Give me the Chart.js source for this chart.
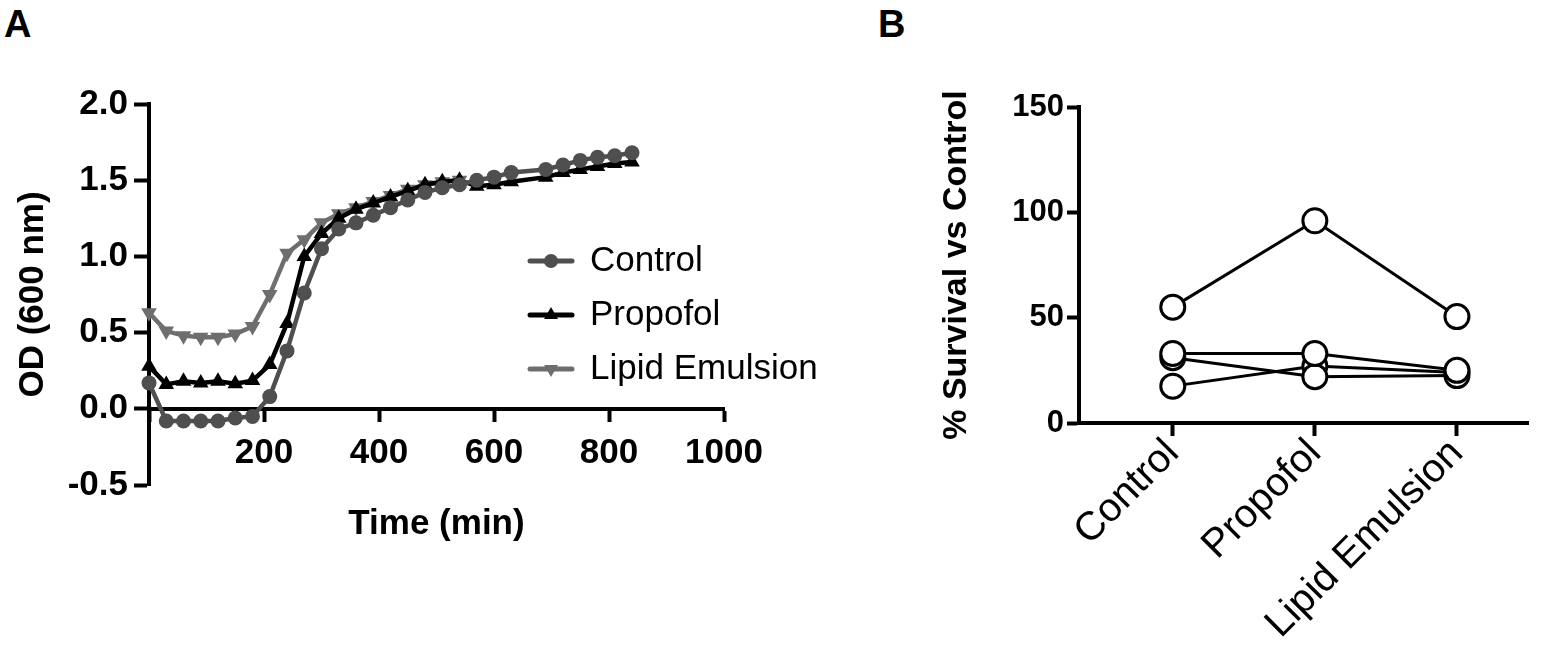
<!DOCTYPE html>
<html>
<head>
<meta charset="utf-8">
<script src="https://cdn.jsdelivr.net/npm/chart.js@4.4.1/dist/chart.umd.min.js"></script>
<style>
  html, body { margin: 0; padding: 0; background: #fff; }
  #wrap { position: relative; width: 1560px; height: 645px; overflow: hidden; }
  .panel { position: absolute; top: 0; }
  .letter { position: absolute; top: 5px; font: bold 38px 'Liberation Sans', Arial, sans-serif; line-height: 1; color: #000; }
</style>
</head>
<body>
<div id="wrap">
  <div class="letter" style="left:4px">A</div>
  <div class="letter" style="left:878px">B</div>
  <canvas id="growthChart" class="panel" style="left:0" width="860" height="645"></canvas>
  <canvas id="survivalChart" class="panel" style="left:860px" width="700" height="645"></canvas>
</div>
<script>
// ===== PANEL A: growth curves =====
const timeMin = [0, 30, 60, 90, 120, 150, 180, 210, 240, 270, 300, 330, 360, 390, 420, 450, 480, 510, 540, 570, 600, 630, 690, 720, 750, 780, 810, 840];
const controlOD = [0.17, -0.08, -0.08, -0.08, -0.08, -0.06, -0.05, 0.08, 0.38, 0.76, 1.05, 1.18, 1.22, 1.27, 1.32, 1.37, 1.42, 1.45, 1.47, 1.50, 1.52, 1.55, 1.57, 1.60, 1.63, 1.65, 1.66, 1.68];
const propofolOD = [0.28, 0.16, 0.18, 0.17, 0.18, 0.165, 0.185, 0.29, 0.56, 1.0, 1.15, 1.25, 1.31, 1.35, 1.39, 1.43, 1.47, 1.49, 1.50, 1.46, 1.47, 1.49, 1.52, 1.55, 1.57, 1.59, 1.61, 1.62];
const lipidOD = [0.63, 0.51, 0.48, 0.47, 0.47, 0.49, 0.54, 0.75, 1.02, 1.11, 1.22, 1.28, 1.32, 1.36, 1.40, 1.44, 1.47, 1.49, 1.50];
const seriesNames = ['Control', 'Propofol', 'Lipid Emulsion'];
const odTicks = [-0.5, 0, 0.5, 1, 1.5, 2];
const timeTicks = [0, 200, 400, 600, 800, 1000];

// ===== PANEL B: survival =====
const groups = ['Control', 'Propofol', 'Lipid Emulsion'];
const run1 = [55, 96, 50.5];
const run2 = [33, 33, 25];
const run3 = [31, 22, 22.5];
const run4 = [17.5, 27, 24];
const survivalTicks = [0, 50, 100, 150];

const FONT = "'Liberation Sans', Arial, sans-serif";

function toPoints(xs, ys) {
  return ys.map((y, i) => ({ x: xs[i], y: y }));
}

function drawMarker(ctx, style, rotation, x, y, r) {
  ctx.beginPath();
  if (style === 'circle') {
    ctx.arc(x, y, r, 0, Math.PI * 2);
  } else {
    let rad = rotation * Math.PI / 180;
    for (let k = 0; k < 3; k++) {
      const px = x + Math.sin(rad) * r, py = y - Math.cos(rad) * r;
      if (k === 0) ctx.moveTo(px, py); else ctx.lineTo(px, py);
      rad += Math.PI * 2 / 3;
    }
    ctx.closePath();
  }
  ctx.fill();
}

// legend drawn inside the plot, line + marker + label
const sideLegend = {
  id: 'sideLegend',
  afterDraw(chart) {
    const ctx = chart.ctx;
    chart.data.datasets.forEach((ds, i) => {
      const y = 261 + i * 54;
      ctx.save();
      ctx.strokeStyle = ds.borderColor;
      ctx.lineWidth = 5;
      ctx.lineCap = 'round';
      ctx.beginPath();
      ctx.moveTo(530, y);
      ctx.lineTo(572, y);
      ctx.stroke();
      ctx.fillStyle = ds.backgroundColor;
      drawMarker(ctx, ds.pointStyle, ds.pointRotation || 0, 551, y, ds.legendRadius);
      ctx.fillStyle = '#000';
      ctx.font = '35px ' + FONT;
      ctx.textBaseline = 'middle';
      ctx.textAlign = 'left';
      ctx.fillText(ds.label, 590, y);
      ctx.restore();
    });
  }
};

const axisCommon = {
  grid: { drawOnChartArea: false, tickColor: '#000', tickWidth: 4 },
  border: { color: '#000', width: 4 }
};

new Chart(document.getElementById('growthChart'), {
  type: 'line',
  data: {
    datasets: [
      { label: seriesNames[0], data: toPoints(timeMin, controlOD), borderColor: '#4f4f4f', backgroundColor: '#4f4f4f',
        borderWidth: 4.5, pointStyle: 'circle', pointRadius: 7.5, pointBorderWidth: 0, legendRadius: 7 },
      { label: seriesNames[1], data: toPoints(timeMin, propofolOD), borderColor: '#000', backgroundColor: '#000',
        borderWidth: 4.5, pointStyle: 'triangle', pointRadius: 9, pointBorderWidth: 0, legendRadius: 8 },
      { label: seriesNames[2], data: toPoints(timeMin, lipidOD), borderColor: '#6e6e6e', backgroundColor: '#6e6e6e',
        borderWidth: 4.5, pointStyle: 'triangle', pointRotation: 180, pointRadius: 9, pointBorderWidth: 0, legendRadius: 8 }
    ]
  },
  options: {
    responsive: false,
    animation: false,
    clip: false,
    layout: { padding: { top: 104, right: 136, bottom: 160, left: 0 } },
    elements: { line: { tension: 0 } },
    plugins: { legend: { display: false }, tooltip: { enabled: false } },
    scales: {
      x: {
        type: 'linear', min: 0, max: 1000, position: { y: 0 },
        afterBuildTicks: s => { s.ticks = timeTicks.map(v => ({ value: v })); },
        ticks: { callback: v => (v === 0 ? '' : v), font: { family: FONT, size: 35, weight: 'bold' }, color: '#000', maxRotation: 0, padding: 13 },
        grid: { ...axisCommon.grid, tickLength: 11 },
        border: axisCommon.border,
        title: { display: true, text: 'Time (min)', color: '#000', font: { family: FONT, size: 35, weight: 'bold' }, padding: { top: 16, bottom: 0 } }
      },
      y: {
        min: -0.5, max: 2,
        afterBuildTicks: s => { s.ticks = odTicks.map(v => ({ value: v })); },
        afterFit: s => { s.width = 149; },
        ticks: { callback: v => v.toFixed(1), font: { family: FONT, size: 35, weight: 'bold' }, color: '#000', padding: 6 },
        grid: { ...axisCommon.grid, tickLength: 15 },
        border: axisCommon.border,
        title: { display: true, text: 'OD (600 nm)', color: '#000', font: { family: FONT, size: 35, weight: 'bold' }, padding: { top: 12, bottom: 0 } }
      }
    }
  },
  plugins: [sideLegend]
});

// Panel B, one line per experiment
const runs = [run1, run2, run3, run4];
new Chart(document.getElementById('survivalChart'), {
  type: 'line',
  data: {
    datasets: runs.map((r, i) => ({
      label: 'Run ' + (i + 1),
      data: toPoints([0, 1, 2], r),
      borderColor: '#000',
      borderWidth: 3,
      pointStyle: 'circle',
      pointRadius: 12,
      pointBorderWidth: 3,
      pointBorderColor: '#000',
      pointBackgroundColor: '#fff'
    }))
  },
  options: {
    responsive: false,
    animation: false,
    clip: false,
    layout: { padding: { top: 107, right: 32, bottom: 0, left: 0 } },
    elements: { line: { tension: 0 } },
    plugins: { legend: { display: false }, tooltip: { enabled: false } },
    scales: {
      x: {
        type: 'linear', min: -0.66, max: 2.5,
        afterBuildTicks: s => { s.ticks = groups.map((g, i) => ({ value: i })); },
        afterFit: s => { s.height = 222; },
        ticks: { callback: v => groups[v], autoSkip: false, minRotation: 45, maxRotation: 45,
          font: { family: FONT, size: 40 }, color: '#000', padding: -6 },
        grid: { ...axisCommon.grid, tickLength: 13 },
        border: axisCommon.border
      },
      y: {
        min: 0, max: 150,
        afterBuildTicks: s => { s.ticks = survivalTicks.map(v => ({ value: v })); },
        afterFit: s => { s.width = 219; },
        ticks: { font: { family: FONT, size: 31, weight: 'bold' }, color: '#000', padding: 3 },
        grid: { ...axisCommon.grid, tickLength: 12 },
        border: axisCommon.border,
        title: { display: true, text: '% Survival vs Control', color: '#000', font: { family: FONT, size: 34, weight: 'bold' }, padding: { top: 76, bottom: 0 } }
      }
    }
  }
});
</script>
</body>
</html>
